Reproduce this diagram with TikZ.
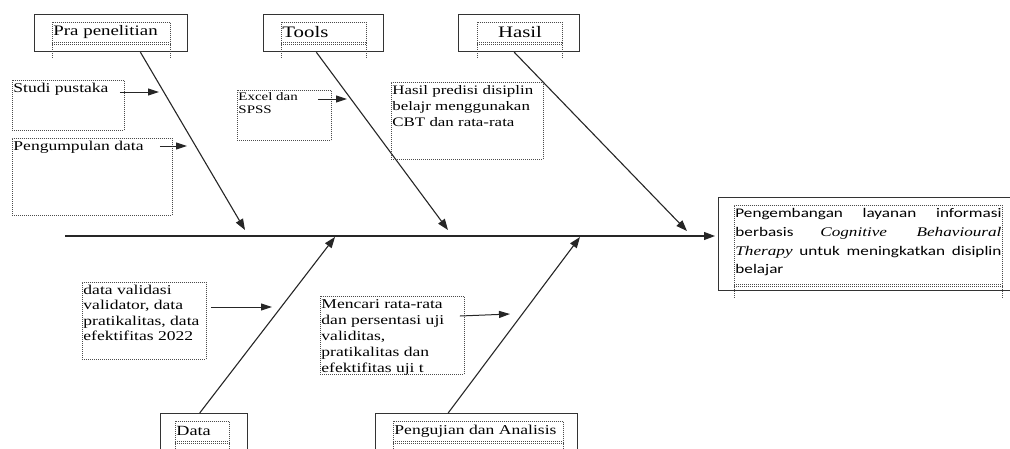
\documentclass[tikz,border=0pt]{standalone}
\usepackage{fontspec}
\setmainfont{Liberation Serif}[FakeStretch=1.3]
\newfontfamily\effectfont{Carlito}[FakeStretch=1.3]
\usetikzlibrary{arrows.meta,positioning,calc}
\hyphenpenalty=10000
\exhyphenpenalty=10000

\tikzset{
  headbox/.style={draw=black!80, line width=1.2pt, anchor=north west, inner sep=0pt},
  titlebox/.style={draw=black!70, line width=0.9pt, dash pattern=on 1pt off 1pt,
    anchor=north west, inner sep=1pt, minimum height=20pt},
  causebox/.style={draw=black!70, line width=0.9pt, dash pattern=on 1pt off 1pt,
    anchor=north west, inner sep=1pt},
  dotline/.style={draw=black!70, line width=0.9pt, dash pattern=on 1pt off 1pt},
  bone/.style={draw=black!85, line width=1.1pt, -{Triangle[length=11pt,width=8pt]}},
  small arrow/.style={draw=black!85, line width=1pt, -{Triangle[length=11pt,width=7pt]}}
}
\newcommand{\boxtext}[4]{\begin{minipage}[t][#2][t]{#1}\fontsize{#3}{#4}\selectfont\raggedright\strut}
\newcommand{\boxend}{\end{minipage}}

\begin{document}
\begin{tikzpicture}[x=1pt,y=-1pt]
\useasboundingbox (0,0) rectangle (1010,448);

% heads on top
\node[headbox, minimum width=153pt, minimum height=37pt] (pra) at (34,14) {};
\node[titlebox, text width=116pt, font=\fontsize{14.5}{16}\selectfont] (praT) at (52,22) {Pra penelitian};
\node[headbox, minimum width=120pt, minimum height=37pt] (tools) at (263,14) {};
\node[titlebox, text width=83pt, font=\fontsize{16}{17}\selectfont] (toolsT) at (281,22) {Tools};
\node[headbox, minimum width=121pt, minimum height=37pt] (hasil) at (458,14) {};
\node[titlebox, text width=83pt, align=center, font=\fontsize{16}{17}\selectfont] (hasilT) at (477,22) {Hasil};

% heads at the bottom
\node[headbox, minimum width=87pt, minimum height=50pt] (data) at (160,413) {};
\node[titlebox, text width=52pt, font=\fontsize{14}{15}\selectfont] (dataT) at (175,421) {Data};
\node[headbox, minimum width=202pt, minimum height=50pt] (uji) at (375,413) {};
\node[titlebox, text width=168pt, font=\fontsize{13.5}{15}\selectfont] (ujiT) at (393,421) {Pengujian dan Analisis};

% legs of the dotted text frames
\foreach \t in {praT,toolsT,hasilT,dataT,ujiT}{
  \draw[dotline] ([yshift=-2pt]\t.south west) -- ([yshift=-2pt]\t.south east);
  \draw[dotline] (\t.south west) -- ++(0,16);
  \draw[dotline] (\t.south east) -- ++(0,16);
}

% effect
\node[headbox, minimum width=296pt, minimum height=93pt] (effect) at (718,197) {};
\node[causebox] (effectT) at (734,205) {\begin{minipage}[t][77pt][t]{266pt}\effectfont\fontsize{13.2}{18.7}\selectfont
  \vspace*{2pt}Pengembangan layanan informasi berbasis {\rmfamily\itshape Cognitive Behavioural}\linebreak
  {\rmfamily\itshape Therapy} untuk meningkatkan disiplin\linebreak belajar\end{minipage}};
\draw[dotline] ([yshift=-2pt]effectT.south west) -- ([yshift=-2pt]effectT.south east);
\draw[dotline] (effectT.south west) -- ++(0,13);
\draw[dotline] (effectT.south east) -- ++(0,13);

% causes
\node[causebox] (studi) at (12,80) {\boxtext{110pt}{48pt}{13.5}{15.5}Studi pustaka\boxend};
\node[causebox] (kumpul) at (12,138) {\boxtext{158pt}{75pt}{13.5}{15.5}Pengumpulan data\boxend};
\node[causebox] (excel) at (237,90) {\boxtext{92pt}{48pt}{11.5}{13}Excel dan\\SPSS\boxend};
\node[causebox] (predisi) at (391,82) {\boxtext{150pt}{75pt}{13}{16}Hasil predisi disiplin belajr menggunakan CBT dan rata-rata\boxend};
\node[causebox] (validasi) at (82,282) {\boxtext{122pt}{75pt}{13.5}{15.5}data validasi validator, data pratikalitas, data efektifitas 2022\boxend};
\node[causebox] (mencari) at (320,296) {\boxtext{142pt}{76pt}{13.5}{16}Mencari rata-rata dan persentasi uji validitas, pratikalitas dan efektifitas uji t\boxend};

% spine
\coordinate (spineL) at (65,236);
\draw[bone] (spineL) -- ([xshift=-3pt]spineL -| effect.west);

% bones
\coordinate (praEnd) at (245,230);
\coordinate (toolsEnd) at (448,230);
\coordinate (hasilEnd) at (687,231);
\coordinate (dataEnd) at (335,237);
\coordinate (ujiEnd) at (580,237);
\draw[bone] ($(pra.south west)!0.69!(pra.south east)$) -- (praEnd);
\draw[bone] ($(tools.south west)!0.44!(tools.south east)$) -- (toolsEnd);
\draw[bone] ($(hasil.south west)!0.46!(hasil.south east)$) -- (hasilEnd);
\draw[bone] ($(data.north west)!0.45!(data.north east)$) -- (dataEnd);
\draw[bone] ($(uji.north west)!0.36!(uji.north east)$) -- (ujiEnd);

% small arrows
\coordinate (studiEnd) at (159,92);
\coordinate (kumpulEnd) at (187,146);
\coordinate (excelEnd) at (347,99);
\coordinate (validasiEnd) at (272,307);
\coordinate (mencariEnd) at (510,314);
\draw[small arrow] ([xshift=-5pt]studi.north east |- studiEnd) -- (studiEnd);
\draw[small arrow] ([xshift=-13pt]kumpul.north east |- kumpulEnd) -- (kumpulEnd);
\draw[small arrow] ([xshift=-14pt]excel.north east |- excelEnd) -- (excelEnd);
\draw[small arrow] ([xshift=4pt]validasi.north east |- validasiEnd) -- (validasiEnd);
\draw[small arrow] ([xshift=-5pt]mencari.north east |- 0,316) -- (mencariEnd);
\end{tikzpicture}
\end{document}
